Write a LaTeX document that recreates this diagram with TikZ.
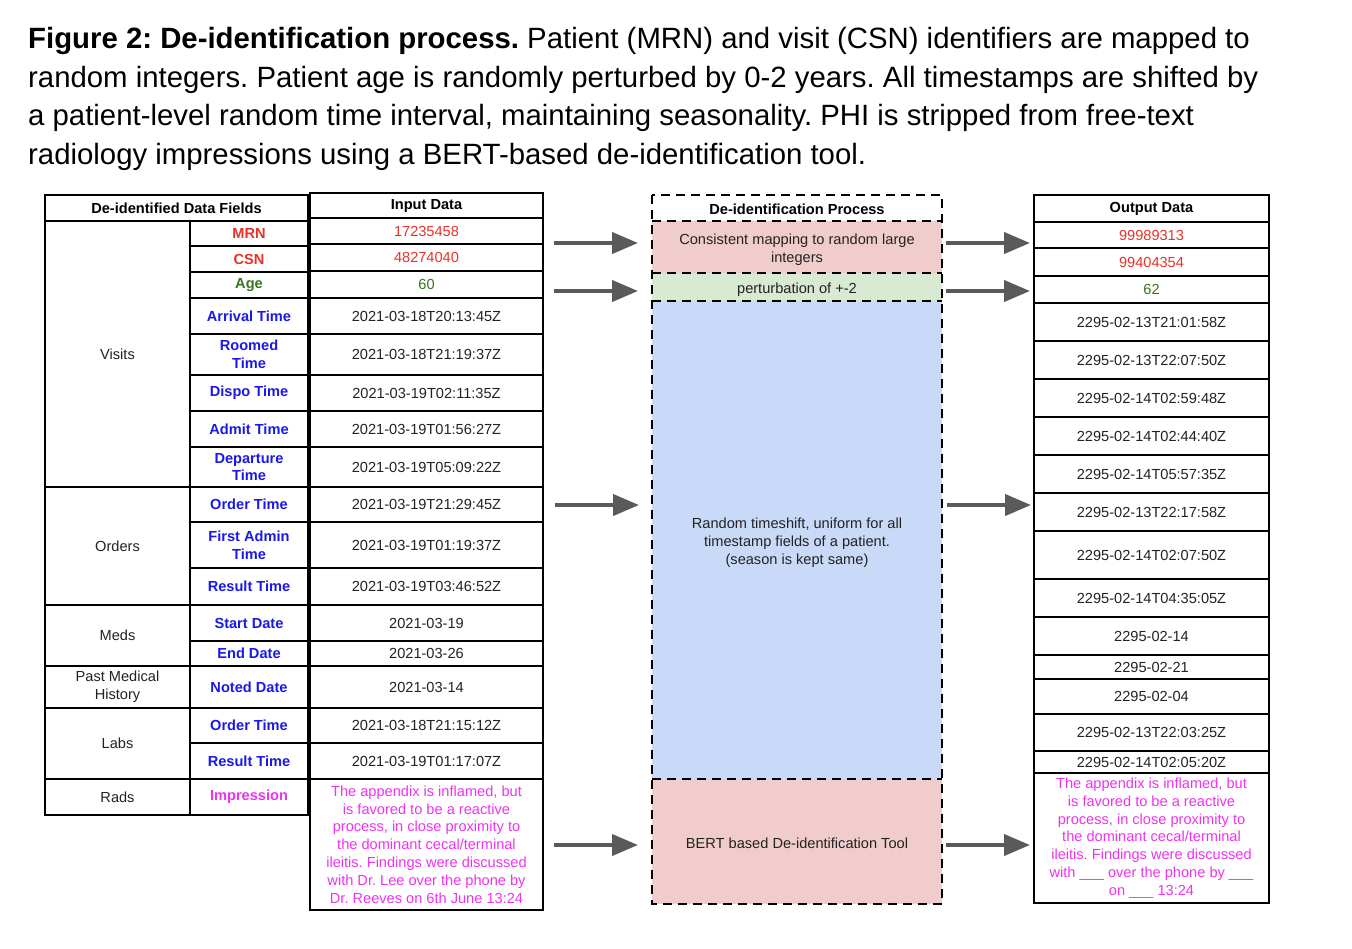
\documentclass[tikz,border=0pt]{standalone}
\usepackage{fontspec}
\setmainfont{Liberation Sans}
\usetikzlibrary{arrows.meta}
\definecolor{redt}{HTML}{E8332A}
\definecolor{greent}{HTML}{38761D}
\definecolor{bluet}{HTML}{1A1AE6}
\definecolor{magt}{HTML}{EE33EE}
\definecolor{txt}{HTML}{222222}
\definecolor{pred}{HTML}{F0CDCC}
\definecolor{pgreen}{HTML}{D9EAD3}
\definecolor{pblue}{HTML}{C9DAF8}
\definecolor{arrgray}{HTML}{5A5A5A}
\newcommand{\tabfont}{\fontsize{14.6}{17.8}\selectfont}
\newcommand{\capfont}{\fontsize{29.35}{38.5}\selectfont}
\newcommand{\tcell}[7][]{\node[cell,#1,minimum width={#5-#3},minimum height={#6-#4}] (#2) at ({(#3+#5)/2},{(#4+#6)/2}) {#7};}
\frenchspacing
\begin{document}
\begin{tikzpicture}[x=1pt,y=-1pt,
  cell/.style={draw=black,line width=2.7pt,inner sep=0pt,outer sep=0pt,align=center,font=\tabfont,text=txt},
  hd/.style={font=\tabfont\bfseries,text=black},
  fred/.style={font=\tabfont\bfseries,text=redt},
  fgreen/.style={font=\tabfont\bfseries,text=greent},
  fblue/.style={font=\tabfont\bfseries,text=bluet},
  fmag/.style={font=\tabfont\bfseries,text=magt},
  vred/.style={text=redt},
  vgreen/.style={text=greent},
  vmag/.style={text=magt},
  proc/.style={draw=none},
  ptext/.style={inner sep=0pt,align=center,font=\tabfont,text=txt},
  dashbox/.style={draw=black,line width=2.8pt,dash pattern=on 9pt off 6pt},
  arr/.style={draw=arrgray,line width=4pt,-{Triangle[length=26pt,width=21pt]}},
  captxt/.style={anchor=base west,inner sep=0pt,font=\capfont,text=black}]
\useasboundingbox (0,0) rectangle (1352,948);
\fill[white] (0,0) rectangle (1352,948);
% caption
\node[captxt] (cap1) at (28,48.5) {\textbf{Figure 2: De-identification process.} Patient (MRN) and visit (CSN) identifiers are mapped to};
\node[captxt] (cap2) at (28,87) {random integers. Patient age is randomly perturbed by 0-2 years. All timestamps are shifted by};
\node[captxt] (cap3) at (28,125.5) {a patient-level random time interval, maintaining seasonality. PHI is stripped from free-text};
\node[captxt] (cap4) at (28,164) {radiology impressions using a BERT-based de-identification tool.};
% left table: groups
\tcell[hd]{lhead}{45}{195}{308}{221}{De-identified Data Fields}
\tcell{gvis}{45}{221}{190}{487}{Visits}
\tcell{gord}{45}{487}{190}{605}{Orders}
\tcell{gmed}{45}{605}{190}{666}{Meds}
\tcell{gpmh}{45}{666}{190}{708}{Past Medical\\History}
\tcell{glab}{45}{708}{190}{779}{Labs}
\tcell{grad}{45}{779}{190}{815}{Rads}
% fields
\tcell[fred]{fmrn}{190}{221}{308}{246}{MRN}
\tcell[fred]{fcsn}{190}{246}{308}{272}{CSN}
\tcell[fgreen]{fage}{190}{272}{308}{298}{Age}
\tcell[fblue]{farr}{190}{298}{308}{334}{Arrival Time}
\tcell[fblue]{froo}{190}{334}{308}{375}{Roomed\\Time}
\tcell[fblue]{fdis}{190}{375}{308}{411}{Dispo Time}
\tcell[fblue]{fadm}{190}{411}{308}{447}{Admit Time}
\tcell[fblue]{fdep}{190}{447}{308}{487}{Departure\\Time}
\tcell[fblue]{ford}{190}{487}{308}{522}{Order Time}
\tcell[fblue]{ffad}{190}{522}{308}{568}{First Admin\\Time}
\tcell[fblue]{fres}{190}{568}{308}{605}{Result Time}
\tcell[fblue]{fsta}{190}{605}{308}{641}{Start Date}
\tcell[fblue]{fend}{190}{641}{308}{666}{End Date}
\tcell[fblue]{fnot}{190}{666}{308}{708}{Noted Date}
\tcell[fblue]{flor}{190}{708}{308}{743}{Order Time}
\tcell[fblue]{flre}{190}{743}{308}{779}{Result Time}
\tcell[fmag]{fimp}{190}{779}{308}{815}{Impression}
% input data
\tcell[hd]{ihead}{310}{193}{543}{218}{Input Data}
\tcell[vred]{imrn}{310}{218}{543}{244}{17235458}
\tcell[vred]{icsn}{310}{244}{543}{271}{48274040}
\tcell[vgreen]{iage}{310}{271}{543}{298}{60}
\tcell{iarr}{310}{298}{543}{334}{2021-03-18T20:13:45Z}
\tcell{iroo}{310}{334}{543}{375}{2021-03-18T21:19:37Z}
\tcell{idis}{310}{375}{543}{411}{2021-03-19T02:11:35Z}
\tcell{iadm}{310}{411}{543}{447}{2021-03-19T01:56:27Z}
\tcell{idep}{310}{447}{543}{487}{2021-03-19T05:09:22Z}
\tcell{iord}{310}{487}{543}{522}{2021-03-19T21:29:45Z}
\tcell{ifad}{310}{522}{543}{568}{2021-03-19T01:19:37Z}
\tcell{ires}{310}{568}{543}{605}{2021-03-19T03:46:52Z}
\tcell{ista}{310}{605}{543}{641}{2021-03-19}
\tcell{iend}{310}{641}{543}{666}{2021-03-26}
\tcell{inot}{310}{666}{543}{708}{2021-03-14}
\tcell{ilor}{310}{708}{543}{743}{2021-03-18T21:15:12Z}
\tcell{ilre}{310}{743}{543}{779}{2021-03-19T01:17:07Z}
\tcell[vmag]{iimp}{310}{779}{543}{910}{The appendix is inflamed, but\\is favored to be a reactive\\process, in close proximity to\\the dominant cecal/terminal\\ileitis. Findings were discussed\\with Dr. Lee over the phone by\\Dr. Reeves on 6th June 13:24}
% process column
\tcell[proc]{phead}{652}{195}{942}{221}{}
\tcell[proc,fill=pred]{pmap}{652}{221}{942}{273}{}
\tcell[proc,fill=pgreen]{ppert}{652}{273}{942}{301}{}
\tcell[proc,fill=pblue]{pshift}{652}{301}{942}{779}{}
\tcell[proc,fill=pred]{pbert}{652}{779}{942}{904}{}
\node[ptext,font=\tabfont\bfseries,text=black] (pheadt) at ([yshift=-1.5pt]phead.center) {De-identification Process};
\node[ptext] (pmapt) at ([yshift=-3pt]pmap.center) {Consistent mapping to random large\\integers};
\node[ptext] (ppertt) at ([yshift=-3pt]ppert.center) {perturbation of +-2};
\node[ptext] (pshiftt) at ([yshift=-3pt]pshift.center) {Random timeshift, uniform for all\\timestamp fields of a patient.\\(season is kept same)};
\node[ptext] (pbertt) at ([yshift=-2pt]pbert.center) {BERT based De-identification Tool};
\draw[dashbox] (phead.north west) rectangle (pbert.south east);
\draw[dashbox] (phead.south west) -- (phead.south east);
\draw[dashbox] (pmap.south west) -- (pmap.south east);
\draw[dashbox] (ppert.south west) -- (ppert.south east);
\draw[dashbox] (pshift.south west) -- (pshift.south east);
% output data
\tcell[hd]{ohead}{1034}{195}{1269}{222}{Output Data}
\tcell[vred]{omrn}{1034}{222}{1269}{248}{99989313}
\tcell[vred]{ocsn}{1034}{248}{1269}{276}{99404354}
\tcell[vgreen]{oage}{1034}{276}{1269}{303}{62}
\tcell{o1}{1034}{303}{1269}{341}{2295-02-13T21:01:58Z}
\tcell{o2}{1034}{341}{1269}{379}{2295-02-13T22:07:50Z}
\tcell{o3}{1034}{379}{1269}{417}{2295-02-14T02:59:48Z}
\tcell{o4}{1034}{417}{1269}{455}{2295-02-14T02:44:40Z}
\tcell{o5}{1034}{455}{1269}{493}{2295-02-14T05:57:35Z}
\tcell{o6}{1034}{493}{1269}{531}{2295-02-13T22:17:58Z}
\tcell{o7}{1034}{531}{1269}{579}{2295-02-14T02:07:50Z}
\tcell{o8}{1034}{579}{1269}{617}{2295-02-14T04:35:05Z}
\tcell{o9}{1034}{617}{1269}{655}{2295-02-14}
\tcell{o10}{1034}{655}{1269}{679}{2295-02-21}
\tcell{o11}{1034}{679}{1269}{714}{2295-02-04}
\tcell{o12}{1034}{714}{1269}{751}{2295-02-13T22:03:25Z}
\tcell{o13}{1034}{751}{1269}{773}{2295-02-14T02:05:20Z}
\tcell[vmag]{oimp}{1034}{773}{1269}{903}{The appendix is inflamed, but\\is favored to be a reactive\\process, in close proximity to\\the dominant cecal/terminal\\ileitis. Findings were discussed\\with \_\_\_ over the phone by \_\_\_\\on \_\_\_ 13:24}
% arrows
\coordinate (la1) at (554,243); \coordinate (lb1) at (638,243);
\coordinate (la2) at (554,291); \coordinate (lb2) at (638,291);
\coordinate (la3) at (555,505); \coordinate (lb3) at (639,505);
\coordinate (la4) at (554,845); \coordinate (lb4) at (638,845);
\coordinate (ra1) at (946,243); \coordinate (rb1) at (1030,243);
\coordinate (ra2) at (946,291); \coordinate (rb2) at (1030,291);
\coordinate (ra3) at (947,505); \coordinate (rb3) at (1031,505);
\coordinate (ra4) at (946,845); \coordinate (rb4) at (1030,845);
\draw[arr] (la1) -- (lb1);
\draw[arr] (la2) -- (lb2);
\draw[arr] (la3) -- (lb3);
\draw[arr] (la4) -- (lb4);
\draw[arr] (ra1) -- (rb1);
\draw[arr] (ra2) -- (rb2);
\draw[arr] (ra3) -- (rb3);
\draw[arr] (ra4) -- (rb4);
\end{tikzpicture}
\end{document}
